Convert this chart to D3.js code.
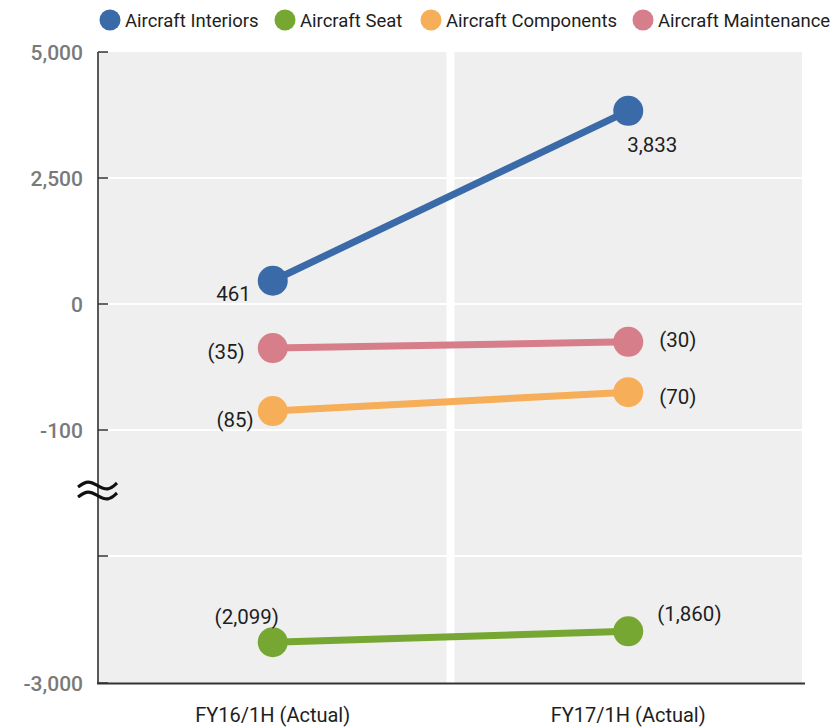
<!DOCTYPE html>
<html lang="en">
<head>
    <meta charset="UTF-8">
    <title>Operating income by segment</title>
    <script src="https://cdnjs.cloudflare.com/ajax/libs/d3/7.8.5/d3.min.js"></script>
    <style>
        body { margin: 0; background: #fff; }
        svg { display: block; font-family: Roboto, "Liberation Sans", Arial, sans-serif; }
    </style>
</head>
<body>
    <svg id="chart" width="836" height="728"></svg>

    <script>
        // Data
        const categories = ["FY16/1H (Actual)", "FY17/1H (Actual)"];
        const seriesNames = ["Aircraft Interiors", "Aircraft Seat", "Aircraft Components", "Aircraft Maintenance"];
        const interiors = [461, 3833];
        const seat = [-2099, -1860];
        const components = [-85, -70];
        const maintenance = [-35, -30];
        const upperTicks = [5000, 2500, 0, -100];
        const lowerTicks = [-200, -3000];
        const tickLabels = ["5,000", "2,500", "0", "-100", "", "-3,000"];

        const colors = ["#3a6aa8", "#77a733", "#f6ae58", "#d67e8a"];

        const svg = d3.select("#chart");

        const plotLeft = 99, plotRight = 802, plotTop = 52, plotBottom = 683;

        // x: one panel per period
        const x = d3.scaleBand()
            .domain(categories)
            .range([plotLeft, plotRight])
            .paddingInner(8 / 355.5)
            .paddingOuter(0);

        // broken y axis: upper part and lower part
        const yTop = d3.scaleLinear().domain([-100, 0, 2500, 5000]).range([430, 304, 178, plotTop]);
        const yBot = d3.scaleLinear().domain([-3000, -200]).range([plotBottom, 556]);
        const y = v => v < -100 ? yBot(v) : yTop(v);

        // panels
        svg.append("g").selectAll("rect")
            .data(categories)
            .enter().append("rect")
            .attr("x", d => x(d))
            .attr("y", plotTop)
            .attr("width", x.bandwidth())
            .attr("height", plotBottom - plotTop)
            .attr("fill", "#efefef");

        const allTicks = upperTicks.concat(lowerTicks);

        // white gridlines
        svg.append("g").selectAll("line")
            .data(allTicks.slice(1, -1))
            .enter().append("line")
            .attr("x1", plotLeft).attr("x2", plotRight)
            .attr("y1", d => y(d)).attr("y2", d => y(d))
            .attr("stroke", "#fff")
            .attr("stroke-width", 2);

        // axes lines
        svg.append("line")
            .attr("x1", 98).attr("x2", 98)
            .attr("y1", plotTop).attr("y2", plotBottom + 1)
            .attr("stroke", "#222").attr("stroke-width", 1.5);
        svg.append("line")
            .attr("x1", 97).attr("x2", 805)
            .attr("y1", plotBottom + 0.5).attr("y2", plotBottom + 0.5)
            .attr("stroke", "#333").attr("stroke-width", 2);

        // tick marks + labels
        const tickG = svg.append("g");
        tickG.selectAll("line")
            .data(allTicks)
            .enter().append("line")
            .attr("x1", 98).attr("x2", 108)
            .attr("y1", d => y(d)).attr("y2", d => y(d))
            .attr("stroke", "#333").attr("stroke-width", 1.5);
        tickG.selectAll("text")
            .data(allTicks)
            .enter().append("text")
            .attr("x", 83)
            .attr("y", d => y(d) + 7.5)
            .attr("text-anchor", "end")
            .attr("font-size", 21)
            .attr("font-weight", 500)
            .attr("fill", "#7a7a7a")
            .text((d, i) => tickLabels[i]);

        // axis break mark
        const wave = d3.line().curve(d3.curveBasis);
        [485, 495].forEach(cy => {
            svg.append("path")
                .attr("d", wave([[78, cy + 2], [88, cy - 5], [98, cy + 1], [108, cy + 6], [117, cy - 2]]))
                .attr("fill", "none")
                .attr("stroke", "#111")
                .attr("stroke-width", 3.2);
        });

        // category labels
        svg.append("g").selectAll("text")
            .data(categories)
            .enter().append("text")
            .attr("x", d => x(d) + x.bandwidth() / 2)
            .attr("y", 722)
            .attr("text-anchor", "middle")
            .attr("font-size", 20)
            .attr("fill", "#1e1e1e")
            .text(d => d);

        // series
        const series = [interiors, seat, components, maintenance];
        const cx = i => x(categories[i]) + x.bandwidth() / 2;
        const line = d3.line().x((d, i) => cx(i)).y(d => y(d));

        const fmt = v => v < 0 ? "(" + d3.format(",")(-v) + ")" : d3.format(",")(v);

        // label offsets [dx, dy, anchor] for each series, left and right point
        const labelPos = [
            [[-22, 20, "end"], [24, 41, "middle"]],
            [[-26, -18, "middle"], [29, -10, "start"]],
            [[-19, 16, "end"], [31, 12, "start"]],
            [[-28, 11, "end"], [31, 5, "start"]]
        ];

        series.forEach((vals, s) => {
            const g = svg.append("g");
            g.append("path")
                .attr("d", line(vals))
                .attr("fill", "none")
                .attr("stroke", colors[s])
                .attr("stroke-width", 7);
            g.selectAll("circle")
                .data(vals)
                .enter().append("circle")
                .attr("cx", (d, i) => cx(i))
                .attr("cy", d => y(d))
                .attr("r", 15)
                .attr("fill", colors[s]);
            g.selectAll("text")
                .data(vals)
                .enter().append("text")
                .attr("x", (d, i) => cx(i) + labelPos[s][i][0])
                .attr("y", (d, i) => y(d) + labelPos[s][i][1])
                .attr("text-anchor", (d, i) => labelPos[s][i][2])
                .attr("font-size", 20.5)
                .attr("fill", "#1e1e1e")
                .text(d => fmt(d));
        });

        // legend
        const legendX = [110, 285, 431, 643];
        const legend = svg.append("g").selectAll("g")
            .data(seriesNames)
            .enter().append("g")
            .attr("transform", (d, i) => `translate(${legendX[i]},20)`);
        legend.append("circle")
            .attr("r", 10.5)
            .attr("fill", (d, i) => colors[i]);
        legend.append("text")
            .attr("x", 15)
            .attr("y", 7)
            .attr("font-size", 18.5)
            .attr("fill", "#1e1e1e")
            .text(d => d);
    </script>
</body>
</html>
